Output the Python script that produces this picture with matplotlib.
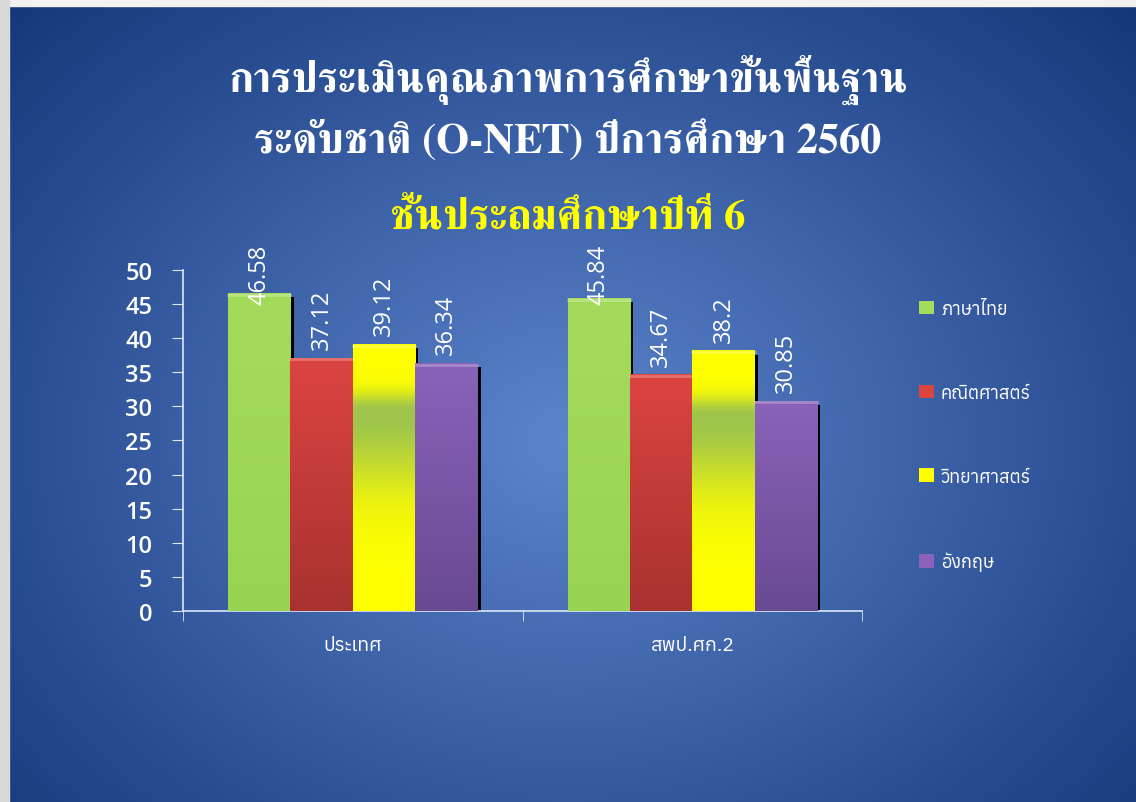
import matplotlib
matplotlib.use("Agg")
import matplotlib.pyplot as plt
import numpy as np
from matplotlib import font_manager
from matplotlib.ft2font import FT2Font
from matplotlib.patches import Rectangle

groups = ["ประเทศ", "สพป.ศก.2"]
subjects = ["ภาษาไทย", "คณิตศาสตร์", "วิทยาศาสตร์", "อังกฤษ"]
scores = {
    "ภาษาไทย": [46.58, 45.84],
    "คณิตศาสตร์": [37.12, 34.67],
    "วิทยาศาสตร์": [39.12, 38.2],
    "อังกฤษ": [36.34, 30.85],
}
title1 = "การประเมินคุณภาพการศึกษาขั้นพื้นฐาน"
title2 = "ระดับชาติ (O-NET) ปีการศึกษา 2560"
title3 = "ชั้นประถมศึกษาปีที่ 6"
yticks = list(range(0, 55, 5))

# look for any installed font that has thai glyphs
thai = []
for f in font_manager.fontManager.ttflist:
    try:
        if 0x0E01 in FT2Font(f.fname).get_charmap():
            thai.append(f.name)
    except Exception:
        pass
thai = sorted(set(thai))
serif = [n for n in thai if "Serif" in n or "Norasi" in n or "Kinnari" in n]
sans_fam = thai[:1] + ["DejaVu Sans"]
serif_fam = (serif or thai)[:1] + ["DejaVu Serif", "DejaVu Sans"]

fig = plt.figure(figsize=(11.36, 8.03), dpi=100)

# slide background, radial blue gradient
bg = fig.add_axes([0, 0, 1, 1])
xx, yy = np.meshgrid(np.linspace(0, 1, 400), np.linspace(0, 1, 300))
r = np.sqrt(((xx - 0.5) / 0.75) ** 2 + ((yy - 0.55) / 0.85) ** 2)
r = np.clip(r, 0, 1)[..., None]
c_in = np.array([0.36, 0.52, 0.80])
c_out = np.array([0.06, 0.19, 0.45])
bg.imshow(c_in * (1 - r) + c_out * r, extent=[0, 1, 0, 1], aspect="auto", origin="upper")
bg.add_patch(Rectangle((0, 1 - 7 / 803), 1, 7 / 803, color="#f2f2f2"))
bg.add_patch(Rectangle((0, 0), 9 / 1136, 1, color="#d9d9d9"))
bg.set_xlim(0, 1)
bg.set_ylim(0, 1)
bg.axis("off")

fig.text(0.5, 0.900, title1, color="white", fontsize=30.5, fontweight="bold",
         ha="center", va="center", family=serif_fam)
fig.text(0.5, 0.824, title2, color="white", fontsize=30.5, fontweight="bold",
         ha="center", va="center", family=serif_fam)
fig.text(0.5, 0.728, title3, color="#ffff00", fontsize=30.5, fontweight="bold",
         ha="center", va="center", family=serif_fam)

ax = fig.add_axes([0.161, 0.2379, 0.598, 0.4247])
ax.patch.set_alpha(0)

top_col = {"ภาษาไทย": "#a3dc5a", "คณิตศาสตร์": "#dc4440", "วิทยาศาสตร์": "#ffff00", "อังกฤษ": "#8a62ba"}
bot_col = {"ภาษาไทย": "#98d452", "คณิตศาสตร์": "#a83230", "วิทยาศาสตร์": "#ffff00", "อังกฤษ": "#684a92"}

w = 0.1835
x = np.arange(len(groups))
for i, s in enumerate(subjects):
    xs = x + (i - 1.5) * w
    vals = scores[s]
    # dark drop shadow on the right side
    ax.bar(xs + 0.01, [v - 0.6 for v in vals], width=w, color="black", zorder=1)
    bars = ax.bar(xs, vals, width=w, color=top_col[s], zorder=2)
    for b, v in zip(bars, vals):
        x0 = b.get_x()
        t = np.linspace(0, 1, 200)
        if s == "วิทยาศาสตร์":
            # yellow bar with the greenish band under the top
            sig = np.where(t < 0.25, 0.07, 0.28)
            g = np.exp(-((t - 0.25) / sig) ** 2)
            y1 = np.array([1.0, 1.0, 0.0])
            y2 = np.array([0.62, 0.77, 0.30])
            grad = y1 * (1 - g[:, None]) + y2 * g[:, None]
        else:
            c1 = np.array(matplotlib.colors.to_rgb(top_col[s]))
            c2 = np.array(matplotlib.colors.to_rgb(bot_col[s]))
            grad = c1 * (1 - t[:, None]) + c2 * t[:, None]
        im = ax.imshow(grad[:, None, :], extent=[x0, x0 + w, 0, v], aspect="auto",
                       origin="upper", zorder=3)
        im.set_clip_path(b)
        ax.plot([x0, x0 + w], [v - 0.25, v - 0.25], color="white", alpha=0.25, lw=2, zorder=4)
        ly = min(v + 1.3, 45.0)
        ax.text(x0 + w / 2, ly, f"{v:g}", rotation=90, color="white", fontsize=17,
                ha="center", va="bottom", zorder=5, clip_on=False, family=["Open Sans", "DejaVu Sans"])
    ax.bar([0], [0], color=top_col[s], label=s)

ax.set_xlim(-0.5, 1.5)
ax.set_ylim(0, 50)
ax.set_yticks(yticks)
ax.set_xticks(x)
ax.set_xticklabels(groups, family=sans_fam)
ax.set_xticks([-0.5, 0.5, 1.5], minor=True)
ax.tick_params(axis="x", which="major", length=0, pad=18, labelsize=14, colors="white")
ax.tick_params(axis="x", which="minor", length=7, color="#dde6f5", direction="out")
ax.tick_params(axis="y", length=8, color="#dde6f5", labelsize=17, labelcolor="white", pad=14)
for lab in ax.get_yticklabels():
    lab.set_fontweight("semibold")
    lab.set_family(["Open Sans", "DejaVu Sans"])
for sp in ["top", "right"]:
    ax.spines[sp].set_visible(False)
for sp in ["left", "bottom"]:
    ax.spines[sp].set_color("#dde6f5")
    ax.spines[sp].set_linewidth(1.2)

leg = ax.legend(loc="upper left", bbox_to_anchor=(1.06, 0.96), frameon=False,
                handlelength=0.8, handleheight=0.8, handletextpad=0.4, labelspacing=3.65,
                prop={"family": sans_fam, "size": 13})
for t in leg.get_texts():
    t.set_color("white")

fig.savefig("out.png", dpi=100)
